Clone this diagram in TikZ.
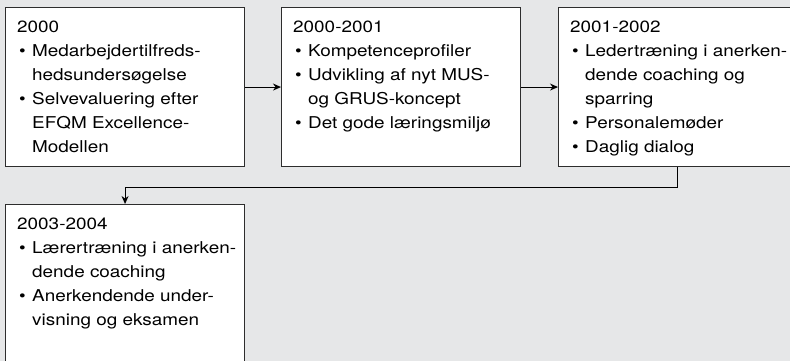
\documentclass[tikz,border=0pt]{standalone}
\usepackage{fontspec}
\setmainfont{TeX Gyre Heros}[FakeStretch=1.16]
\usetikzlibrary{positioning, arrows.meta}
\definecolor{bggray}{RGB}{230,231,232}
\definecolor{edge}{RGB}{45,45,45}
\newcommand{\blt}{\makebox[15pt][l]{\hspace{2pt}\textbullet}}
\newcommand{\cnt}{\hspace*{15pt}}

\begin{document}
\begin{tikzpicture}[x=1pt, y=-1pt,
    phase/.style={draw=edge, fill=white, line width=1.1pt, anchor=north west,
      minimum width=239pt, minimum height=159pt, inner sep=0pt},
    txt/.style={anchor=north west, inner sep=0pt, align=left,
      font=\fontsize{16.3}{24}\selectfont},
    arr/.style={draw=black, line width=0.9pt, -{Stealth[length=8pt, width=7pt]}}]
    % Canvas 790 x 361, grey ground
    \clip (0,0) rectangle (790,361);
    \fill[bggray] (0,0) rectangle (790,361);
    % Phase boxes (third and fourth run off the page)
    \node[phase] (b1) at (5,7) {};
    \node[phase] (b2) at (281,7) {};
    \node[phase, minimum width=245pt] (b3) at (558,7) {};
    \node[phase, minimum height=175pt] (b4) at (5,204) {};
    % Box texts
    \node[txt] (t1) at ([xshift=12pt, yshift=-14pt]b1.north west)
      {2000\\ \blt Medarbejdertilfreds-\\ \cnt hedsundersøgelse\\
       \blt Selvevaluering efter\\ \cnt EFQM Excellence-\\ \cnt Modellen};
    \node[txt] (t2) at ([xshift=12pt, yshift=-14pt]b2.north west)
      {2000-2001\\ \blt Kompetenceprofiler\\ \blt Udvikling af nyt MUS-\\
       \cnt og GRUS-koncept\\ \blt Det gode læringsmiljø};
    \node[txt] (t3) at ([xshift=12pt, yshift=-14pt]b3.north west)
      {2001-2002\\ \blt Ledertræning i anerken-\\ \cnt dende coaching og\\
       \cnt sparring\\ \blt Personalemøder\\ \blt Daglig dialog};
    \node[txt] (t4) at ([xshift=12pt, yshift=-14pt]b4.north west)
      {2003-2004\\ \blt Lærertræning i anerken-\\ \cnt dende coaching\\
       \blt Anerkendende under-\\ \cnt visning og eksamen};
    % Connectors
    \draw[arr] (b1.east) -- (b2.west);
    \draw[arr] (b2.east) -- (b3.west);
    \coordinate (elbow) at (677,187);
    \draw[arr] (elbow |- b3.south) -- (elbow) -| (b4.north);
  \end{tikzpicture}
\end{document}
